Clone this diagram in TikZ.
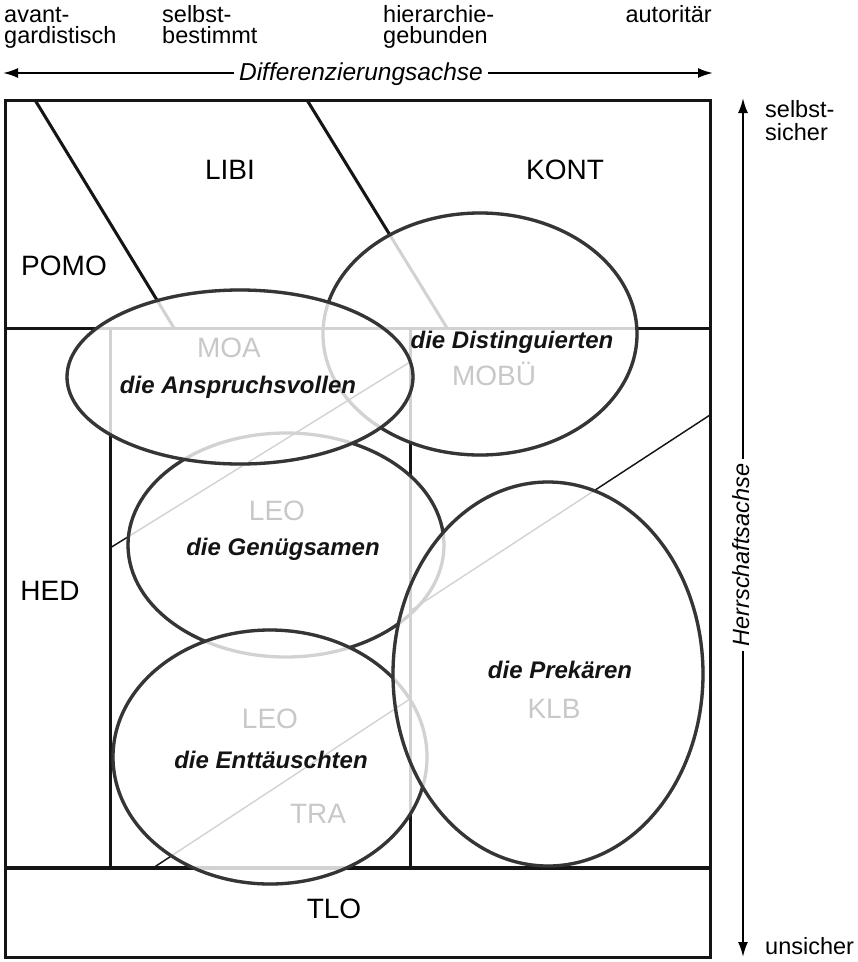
\documentclass[tikz,border=0pt]{standalone}
\usepackage{fontspec}
\setmainfont{Liberation Sans}
\usetikzlibrary{arrows.meta}
\definecolor{lnblack}{HTML}{151515}
\definecolor{lngray}{HTML}{D2D2D2}
\definecolor{ellblack}{HTML}{353535}
\definecolor{labgray}{HTML}{C8C8C8}
% ellipses: Distinguierten, Anspruchsvollen, Genuegsamen, Prekaeren, Enttaeuschten
\newcommand\ellA{(480,334) ellipse [x radius=157, y radius=121]}
\newcommand\ellB{(240,377) ellipse [x radius=173, y radius=87]}
\newcommand\ellC{(286,545) ellipse [x radius=158, y radius=112]}
\newcommand\ellD{(548,674) ellipse [x radius=155, y radius=192]}
\newcommand\ellE{(270,757) ellipse [x radius=157, y radius=127]}
\newcommand\clipoutside[1]{\clip (-60,-60) rectangle (920,1020) #1;}
\newcommand\structurelines[1]{%
  \draw[#1, frameln] (5,100) rectangle (710,957);
  \draw[#1, frameln] (5,328) -- (710,328);
  \draw[#1, frameln, line width=4.5pt] (5,868) -- (710,868);
  \draw[#1, frameln] (35,100) -- (174,328);
  \draw[#1, frameln] (307,100) -- (447,328);
  \draw[#1, frameln] (110,328) -- (110,868);
  \draw[#1, frameln] (410,328) -- (410,868);
  \draw[#1, thinln] (110,548) -- (410,362);
  \draw[#1, thinln] (410,611) -- (710,415);
  \draw[#1, thinln] (153,868) -- (410,699);
}
\begin{document}
\begin{tikzpicture}[x=1pt, y=-1pt,
  frameln/.style={line width=3pt},
  thinln/.style={line width=1.4pt},
  ellln/.style={line width=3.3pt},
  bigtxt/.style={font=\fontsize{28}{32}\selectfont, inner sep=0pt, anchor=base},
  graytxt/.style={bigtxt, text=labgray},
  milieu/.style={font=\fontsize{24}{28}\selectfont\bfseries\itshape, inner sep=0pt, anchor=base, text=black!92},
  axistxt/.style={font=\fontsize{23.5}{26}\selectfont, inner sep=0pt},
  axisarrow/.style={line width=2pt, {Latex[length=15pt,width=10pt]}-{Latex[length=15pt,width=10pt]}}
]
\useasboundingbox (0,0) rectangle (858,962);

% gray layer
\structurelines{lngray}
\draw[lngray, ellln] \ellA;
\draw[lngray, ellln] \ellB;
\draw[lngray, ellln] \ellC;
\draw[lngray, ellln] \ellD;
\draw[lngray, ellln] \ellE;

% black structure outside all ellipses
\begin{scope}[even odd rule]
  \clipoutside{\ellA}\clipoutside{\ellB}\clipoutside{\ellC}\clipoutside{\ellD}\clipoutside{\ellE}
  \structurelines{lnblack}
\end{scope}

% ellipse outlines, dark where not covered by an ellipse lying above
% stacking order from top: D, E, B, C, A
\begin{scope}[even odd rule]
  \clipoutside{\ellB}\clipoutside{\ellC}\clipoutside{\ellD}\clipoutside{\ellE}
  \draw[ellblack, ellln] \ellA;
\end{scope}
\begin{scope}[even odd rule]
  \clipoutside{\ellB}\clipoutside{\ellD}\clipoutside{\ellE}
  \draw[ellblack, ellln] \ellC;
\end{scope}
\begin{scope}[even odd rule]
  \clipoutside{\ellD}\clipoutside{\ellE}
  \draw[ellblack, ellln] \ellB;
\end{scope}
\begin{scope}[even odd rule]
  \clipoutside{\ellD}
  \draw[ellblack, ellln] \ellE;
\end{scope}
\draw[ellblack, ellln] \ellD;

% region labels
\node[bigtxt] (libi) at (230,179) {LIBI};
\node[bigtxt] (kont) at (565,179) {KONT};
\node[bigtxt] (pomo) at (64,275) {POMO};
\node[bigtxt] (hed) at (50,600) {HED};
\node[bigtxt] (tlo) at (334,918) {TLO};
\node[graytxt] (moa) at (229,357) {MOA};
\node[graytxt] (leoa) at (277,520) {LEO};
\node[graytxt] (mobu) at (494,385) {MOBÜ};
\node[graytxt] (klb) at (554,718) {KLB};
\node[graytxt] (leob) at (270,728) {LEO};
\node[graytxt] (tra) at (318,823) {TRA};

% milieu labels
\node[milieu] (anspr) at (238,393) {die Anspruchsvollen};
\node[milieu] (dist) at (512,348) {die Distinguierten};
\node[milieu] (genueg) at (283,555) {die Genügsamen};
\node[milieu] (prek) at (560,678) {die Prekären};
\node[milieu] (entt) at (271,768) {die Enttäuschten};

% top axis
\node[axistxt, anchor=base west] (avant1) at (4,22) {avant-};
\node[axistxt, anchor=base west] (avant2) at (4,43) {gardistisch};
\node[axistxt, anchor=base west] (selb1) at (162,22) {selbst-};
\node[axistxt, anchor=base west] (selb2) at (162,43) {bestimmt};
\node[axistxt, anchor=base west] (hier1) at (383,22) {hierarchie-};
\node[axistxt, anchor=base west] (hier2) at (383,43) {gebunden};
\node[axistxt, anchor=base east] (auto) at (712,22) {autoritär};
\coordinate (xl) at (3,73);
\coordinate (xr) at (713,73);
\draw[axisarrow] (xl) -- (xr);
\node[axistxt, font=\fontsize{24.5}{28}\selectfont\itshape, fill=white, inner xsep=5pt, inner ysep=2pt, anchor=base] (xlab) at (361,80) {Differenzierungsachse};

% right axis
\coordinate (yt) at (743,98);
\coordinate (yb) at (743,957);
\draw[axisarrow] (yt) -- (yb);
\node[axistxt, font=\fontsize{23.5}{28}\selectfont\itshape, fill=white, inner xsep=5pt, inner ysep=2pt, rotate=90, anchor=base] (ylab) at (749,555) {Herrschaftsachse};
\node[axistxt, anchor=base west] (ss1) at (765,117) {selbst-};
\node[axistxt, anchor=base west] (ss2) at (765,140) {sicher};
\node[axistxt, anchor=base west] (uns) at (765,954) {unsicher};
\end{tikzpicture}
\end{document}
